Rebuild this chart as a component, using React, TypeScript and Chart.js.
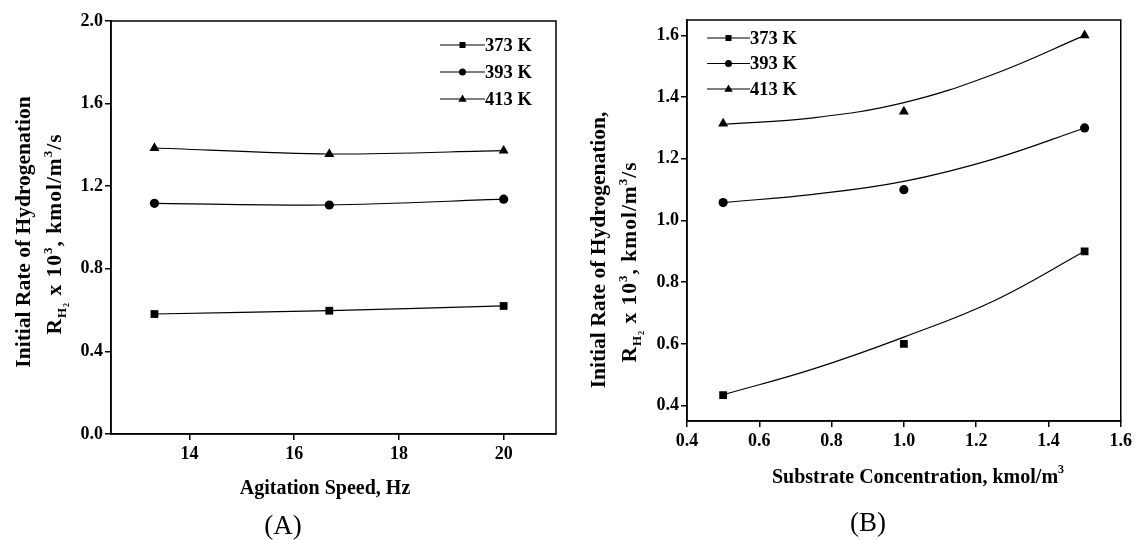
import React, { useEffect, useRef } from 'react';
import { Chart, registerables } from 'chart.js';

Chart.register(...registerables);

// ---------- data ----------
const seriesLabels = ['373 K', '393 K', '413 K'];
const seriesPointStyles = ['rect', 'circle', 'triangle'];

// Panel A: agitation speed
const speedHz = [13.33, 16.67, 20];
const rateA373 = [0.581, 0.597, 0.62];
const rateA393 = [1.117, 1.109, 1.137];
const rateA413 = [1.385, 1.356, 1.372];
const xTicksA = [14, 16, 18, 20];
const yTicksA = [0, 0.4, 0.8, 1.2, 1.6, 2.0];

// Panel B: substrate concentration
const concB = [0.5, 1.0, 1.5];
const rateB373 = [0.434, 0.6, 0.9];
const rateB393 = [1.058, 1.1, 1.3];
const rateB413 = [1.314, 1.353, 1.6];
// fitted curves
const fitXB = [0.5, 0.75, 1.0, 1.25, 1.5];
const fitB373 = [0.435, 0.519, 0.622, 0.74, 0.9];
const fitB393 = [1.058, 1.085, 1.127, 1.2, 1.3];
const fitB413 = [1.312, 1.333, 1.382, 1.475, 1.6];
const xTicksB = [0.4, 0.6, 0.8, 1.0, 1.2, 1.4, 1.6];
const yTicksB = [0.4, 0.6, 0.8, 1.0, 1.2, 1.4, 1.6];

const FAMILY = "'Liberation Serif', 'Times New Roman', serif";

type Run = { t: string; size: number; dy?: number; weight?: string };

const yTitleLine1A: Run[] = [{ t: 'Initial Rate of Hydrogenation', size: 21.5 }];
const yTitleLine1B: Run[] = [{ t: 'Initial Rate of Hydrogenation,', size: 21.5 }];
const yTitleLine2: Run[] = [
  { t: 'R', size: 21.5 },
  { t: 'H', size: 13, dy: 5 },
  { t: '2', size: 8, dy: 8 },
  { t: ' x 10', size: 21.5 },
  { t: '3', size: 13, dy: -9 },
  { t: ', kmol/m', size: 21.5 },
  { t: '3', size: 13, dy: -9 },
  { t: '/s', size: 21.5 },
];
const xTitleA: Run[] = [{ t: 'Agitation Speed, Hz', size: 20 }];
const xTitleB: Run[] = [
  { t: 'Substrate Concentration, kmol/m', size: 20 },
  { t: '3', size: 12, dy: -10 },
];

function zip(xs: number[], ys: number[]) {
  return xs.map((x, i) => ({ x, y: ys[i] }));
}

function drawRuns(
  ctx: CanvasRenderingContext2D,
  runs: Run[],
  cx: number,
  cy: number,
  rotate: boolean,
  spacing = 0
) {
  ctx.save();
  ctx.translate(cx, cy);
  if (rotate) ctx.rotate(-Math.PI / 2);
  ctx.fillStyle = '#000';
  ctx.textAlign = 'left';
  ctx.textBaseline = 'alphabetic';
  const anyCtx = ctx as any;
  if ('letterSpacing' in anyCtx) anyCtx.letterSpacing = `${spacing}px`;
  let total = 0;
  const widths = runs.map((r) => {
    ctx.font = `${r.weight ?? 'bold'} ${r.size}px ${FAMILY}`;
    const w = ctx.measureText(r.t).width;
    total += w;
    return w;
  });
  let x = -total / 2;
  runs.forEach((r, i) => {
    ctx.font = `${r.weight ?? 'bold'} ${r.size}px ${FAMILY}`;
    ctx.fillText(r.t, x, r.dy ?? 0);
    x += widths[i];
  });
  if ('letterSpacing' in anyCtx) anyCtx.letterSpacing = '0px';
  ctx.restore();
}

function drawMarker(ctx: CanvasRenderingContext2D, style: string, x: number, y: number, r: number) {
  ctx.beginPath();
  if (style === 'rect') {
    ctx.rect(x - r, y - r, 2 * r, 2 * r);
  } else if (style === 'circle') {
    ctx.arc(x, y, r, 0, Math.PI * 2);
  } else {
    ctx.moveTo(x, y - r * 1.15);
    ctx.lineTo(x + r * 1.05, y + r * 0.7);
    ctx.lineTo(x - r * 1.05, y + r * 0.7);
    ctx.closePath();
  }
  ctx.fill();
}

interface PanelSpec {
  w: number;
  h: number;
  area: { left: number; top: number; right: number; bottom: number };
  xMin: number;
  xMax: number;
  yMin: number;
  yMax: number;
  xTicks: number[];
  yTicks: number[];
  xFmt: (v: number) => string;
  yFmt: (v: number) => string;
  xTickPad: number;
  datasets: any[];
  legend: { x0: number; x1: number; rows: number[] };
  yTitle: { l1: Run[]; l1x: number; l1y: number; l2: Run[]; l2x: number; l2y: number };
  xTitle: { runs: Run[]; cx: number; baseline: number };
  label: { text: string; cx: number; cy: number };
}

function pointDataset(label: string, style: string, data: { x: number; y: number }[], showLine: boolean) {
  const r = style === 'circle' ? 4.6 : style === 'rect' ? 5.5 : 5.8;
  return {
    label,
    data,
    showLine,
    tension: 0.3,
    borderColor: '#000',
    borderWidth: 1.2,
    backgroundColor: '#000',
    pointStyle: style,
    pointRadius: r,
    pointBackgroundColor: '#000',
    pointBorderColor: '#000',
    pointBorderWidth: 0,
    fill: false,
  };
}

function fitDataset(data: { x: number; y: number }[]) {
  return {
    label: '',
    data,
    showLine: true,
    tension: 0.4,
    borderColor: '#000',
    borderWidth: 1.2,
    pointRadius: 0,
    fill: false,
  };
}

function buildConfig(p: PanelSpec): any {
  const overlay = {
    id: 'overlay',
    afterDatasetsDraw(chart: any) {
      const ctx: CanvasRenderingContext2D = chart.ctx;
      const a = chart.chartArea;
      ctx.save();
      ctx.strokeStyle = '#000';
      ctx.lineWidth = 1.5;
      ctx.strokeRect(a.left, a.top, a.right - a.left, a.bottom - a.top);
      // legend
      ctx.lineWidth = 1.2;
      ctx.fillStyle = '#000';
      for (let i = 0; i < 3; i++) {
        const y = p.legend.rows[i];
        ctx.beginPath();
        ctx.moveTo(p.legend.x0, y);
        ctx.lineTo(p.legend.x1, y);
        ctx.stroke();
        const mx = (p.legend.x0 + p.legend.x1) / 2;
        const st = seriesPointStyles[i];
        drawMarker(ctx, st, mx, y, st === 'rect' ? 3 : st === 'circle' ? 3.5 : 4);
        ctx.font = `bold 18.5px ${FAMILY}`;
        ctx.textAlign = 'left';
        ctx.textBaseline = 'middle';
        ctx.fillText(seriesLabels[i], p.legend.x1, y + 1);
      }
      ctx.restore();
      // titles
      drawRuns(ctx, p.yTitle.l1, p.yTitle.l1x, p.yTitle.l1y, true);
      drawRuns(ctx, p.yTitle.l2, p.yTitle.l2x, p.yTitle.l2y, true, 1);
      drawRuns(ctx, p.xTitle.runs, p.xTitle.cx, p.xTitle.baseline, false);
      ctx.save();
      ctx.font = `normal 27px ${FAMILY}`;
      ctx.fillStyle = '#000';
      ctx.textAlign = 'center';
      ctx.textBaseline = 'middle';
      ctx.fillText(p.label.text, p.label.cx, p.label.cy);
      ctx.restore();
    },
  };

  const tickFont = { family: FAMILY, weight: 'bold' as const, size: 18 };

  return {
    type: 'scatter',
    data: { datasets: p.datasets },
    options: {
      animation: false,
      responsive: false,
      events: [],
      layout: {
        padding: { left: 0, top: p.area.top, right: p.w - p.area.right, bottom: 0 },
      },
      plugins: {
        legend: { display: false },
        tooltip: { enabled: false },
        title: { display: false },
      },
      scales: {
        x: {
          type: 'linear',
          min: p.xMin,
          max: p.xMax,
          afterBuildTicks: (s: any) => {
            s.ticks = p.xTicks.map((v) => ({ value: v }));
          },
          afterFit: (s: any) => {
            s.height = p.h - p.area.bottom;
          },
          grid: {
            display: true,
            drawOnChartArea: false,
            drawTicks: true,
            tickLength: 6,
            color: '#000',
            lineWidth: 1.5,
          },
          border: { display: true, color: '#000', width: 1.5 },
          ticks: {
            color: '#000',
            font: tickFont,
            padding: p.xTickPad,
            maxRotation: 0,
            autoSkip: false,
            callback: (v: any) => p.xFmt(Number(v)),
          },
        },
        y: {
          type: 'linear',
          min: p.yMin,
          max: p.yMax,
          afterBuildTicks: (s: any) => {
            s.ticks = p.yTicks.map((v) => ({ value: v }));
          },
          afterFit: (s: any) => {
            s.width = p.area.left;
          },
          grid: {
            display: true,
            drawOnChartArea: false,
            drawTicks: true,
            tickLength: 6,
            color: '#000',
            lineWidth: 1.5,
          },
          border: { display: true, color: '#000', width: 1.5 },
          ticks: {
            color: '#000',
            font: tickFont,
            padding: 2,
            autoSkip: false,
            callback: (v: any) => p.yFmt(Number(v)),
          },
        },
      },
    },
    plugins: [overlay],
  };
}

const panelA: PanelSpec = {
  w: 570,
  h: 540,
  area: { left: 111, top: 21, right: 556, bottom: 434 },
  xMin: 12.5,
  xMax: 21,
  yMin: 0,
  yMax: 2.0,
  xTicks: xTicksA,
  yTicks: yTicksA,
  xFmt: (v) => String(v),
  yFmt: (v) => v.toFixed(1),
  xTickPad: 4,
  datasets: [
    pointDataset(seriesLabels[0], seriesPointStyles[0], zip(speedHz, rateA373), true),
    pointDataset(seriesLabels[1], seriesPointStyles[1], zip(speedHz, rateA393), true),
    pointDataset(seriesLabels[2], seriesPointStyles[2], zip(speedHz, rateA413), true),
  ],
  legend: { x0: 440, x1: 485, rows: [45, 72, 99] },
  yTitle: { l1: yTitleLine1A, l1x: 29.5, l1y: 232, l2: yTitleLine2, l2x: 61, l2y: 234 },
  xTitle: { runs: xTitleA, cx: 325, baseline: 494 },
  label: { text: '(A)', cx: 283, cy: 527 },
};

const panelB: PanelSpec = {
  w: 566,
  h: 540,
  area: { left: 117, top: 20, right: 552, bottom: 421 },
  xMin: 0.4,
  xMax: 1.6,
  yMin: 0.35,
  yMax: 1.65,
  xTicks: xTicksB,
  yTicks: yTicksB,
  xFmt: (v) => v.toFixed(1),
  yFmt: (v) => v.toFixed(1),
  xTickPad: 4,
  datasets: [
    pointDataset(seriesLabels[0], seriesPointStyles[0], zip(concB, rateB373), false),
    pointDataset(seriesLabels[1], seriesPointStyles[1], zip(concB, rateB393), false),
    pointDataset(seriesLabels[2], seriesPointStyles[2], zip(concB, rateB413), false),
    fitDataset(zip(fitXB, fitB373)),
    fitDataset(zip(fitXB, fitB393)),
    fitDataset(zip(fitXB, fitB413)),
  ],
  legend: { x0: 137, x1: 180, rows: [38, 63.5, 89] },
  yTitle: { l1: yTitleLine1B, l1x: 35, l1y: 250, l2: yTitleLine2, l2x: 66, l2y: 262 },
  xTitle: { runs: xTitleB, cx: 348, baseline: 483 },
  label: { text: '(B)', cx: 298, cy: 524 },
};

function PanelChart({ spec, left }: { spec: PanelSpec; left: number }) {
  const ref = useRef<HTMLCanvasElement | null>(null);
  useEffect(() => {
    if (!ref.current) return;
    const chart = new Chart(ref.current, buildConfig(spec));
    return () => chart.destroy();
  }, [spec]);
  return (
    <canvas
      ref={ref}
      width={spec.w}
      height={spec.h}
      style={{ position: 'absolute', left, top: 0, width: spec.w, height: spec.h }}
    />
  );
}

export default function App() {
  return (
    <div style={{ position: 'fixed', left: 0, top: 0, width: 1136, height: 540, background: '#fff', overflow: 'hidden' }}>
      <PanelChart spec={panelA} left={0} />
      <PanelChart spec={panelB} left={570} />
    </div>
  );
}
